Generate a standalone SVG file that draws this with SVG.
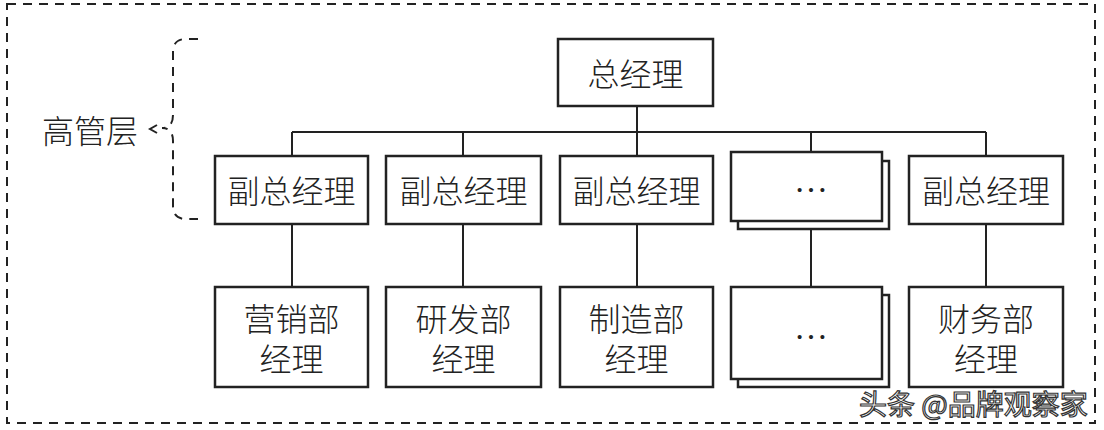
<svg xmlns="http://www.w3.org/2000/svg" width="1104" height="430" viewBox="0 0 1104 430">
<style>
.box{fill:#fff;stroke:#222;stroke-width:2.5}
.ln{fill:none;stroke:#222;stroke-width:2}
.dash{fill:none;stroke:#222;stroke-width:2;stroke-dasharray:9 7}
.t{font-family:"Noto Sans CJK SC","Noto Sans CJK JP",sans-serif;font-size:32px;font-weight:300;fill:#222;text-anchor:middle;dominant-baseline:central}
.t2{font-family:"Noto Sans CJK SC","Noto Sans CJK JP",sans-serif;font-size:32px;font-weight:300;fill:#222;text-anchor:middle}
.dots{font-family:"Liberation Serif",serif;font-size:34px;fill:#222;text-anchor:middle}
.wm{font-family:"Noto Sans CJK SC",sans-serif;font-size:28px;fill:#fff;stroke:#333;stroke-width:1.2}
</style>
<rect width="1104" height="430" fill="#fff"/>
<rect x="7" y="4" width="1088" height="419" class="dash"/>
<g id="brace">
<path class="dash" stroke-dasharray="8 7" d="M198,39 H186 Q173,39 173,52 V115 Q173,128 162,128 Q173,128 173,141 V206 Q173,219 186,219 H198"/>
<path class="ln" d="M157,125 L150,129 L157,133"/>
<text class="t" x="90" y="129">高管层</text>
</g>
<g id="connectors">
<path class="ln" d="M637,106 V132 M292,132 H986 M292,132 V156 M463,132 V156 M637,132 V156 M811,132 V152 M986,132 V156 M292,224 V287 M463,224 V287 M637,224 V287 M811,229 V287 M986,224 V287"/>
</g>
<g id="gm"><rect class="box" x="558" y="39" width="155" height="67"/><text class="t" x="635.5" y="71.5">总经理</text></g>
<g id="vp1"><rect class="box" x="215" y="156" width="153" height="68"/><text class="t" x="291.5" y="188.5">副总经理</text></g>
<g id="vp2"><rect class="box" x="386" y="156" width="155" height="68"/><text class="t" x="463.5" y="188.5">副总经理</text></g>
<g id="vp3"><rect class="box" x="560" y="156" width="153" height="68"/><text class="t" x="636.5" y="188.5">副总经理</text></g>
<g id="vp4"><rect class="box" x="738" y="161" width="151" height="68"/><rect class="box" x="731" y="152" width="151" height="69"/><text class="dots" x="811" y="192">…</text></g>
<g id="vp5"><rect class="box" x="909" y="156" width="154" height="68"/><text class="t" x="986" y="188.5">副总经理</text></g>
<g id="m1"><rect class="box" x="215" y="287" width="153" height="100"/><text class="t2" x="291.5" y="331"><tspan x="291.5">营销部</tspan><tspan x="291.5" dy="40">经理</tspan></text></g>
<g id="m2"><rect class="box" x="386" y="287" width="155" height="100"/><text class="t2" x="463.5" y="331"><tspan x="463.5">研发部</tspan><tspan x="463.5" dy="40">经理</tspan></text></g>
<g id="m3"><rect class="box" x="560" y="287" width="153" height="100"/><text class="t2" x="636.5" y="331"><tspan x="636.5">制造部</tspan><tspan x="636.5" dy="40">经理</tspan></text></g>
<g id="m4"><rect class="box" x="738" y="295" width="151" height="92"/><rect class="box" x="731" y="287" width="151" height="92"/><text class="dots" x="811" y="339">…</text></g>
<g id="m5"><rect class="box" x="909" y="287" width="154" height="100"/><text class="t2" x="986" y="331"><tspan x="986">财务部</tspan><tspan x="986" dy="40">经理</tspan></text></g>
<text class="wm" x="859" y="415">头条 @品牌观察家</text>
</svg>
